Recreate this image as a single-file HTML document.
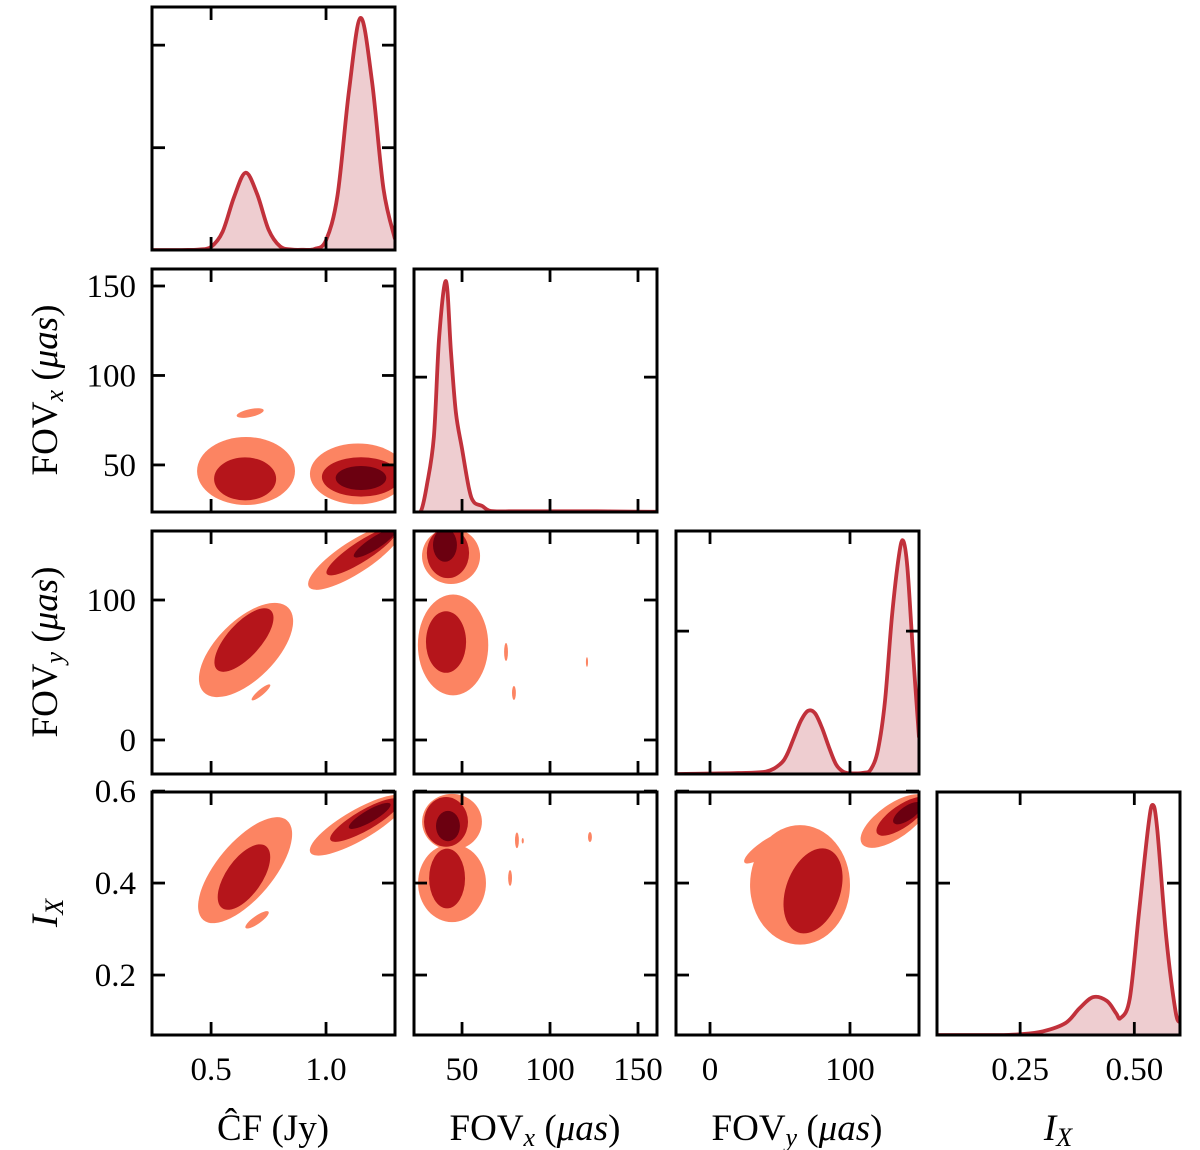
<!DOCTYPE html>
<html><head><meta charset="utf-8">
<style>
html,body{margin:0;padding:0;background:#fff;}
svg{display:block;font-family:"Liberation Serif","DejaVu Serif",serif;}
</style></head>
<body>
<svg id="chart" width="1200" height="1150" viewBox="0 0 1200 1150"></svg>
<script>
// ---- data ----
const varNames = ["CF","FOVx","FOVy","IX"];
const xDomains = [[0.243,1.30],[22.7,160.8],[-24.3,149.3],[0.068,0.600]];
const yDomains = [[0.243,1.30],[23.7,159.5],[-24.3,149.3],[0.0696,0.598]];
const xTicks = [[0.5,1.0],[50,100,150],[0,100],[0.25,0.5]];
const xTickLabels = [["0.5","1.0"],["50","100","150"],["0","100"],["0.25","0.50"]];
const yTicks = [[0.5,1.0],[50,100,150],[0,100],[0.2,0.4,0.6]];
const yTickLabels = [["0.5","1.0"],["50","100","150"],["0","100"],["0.2","0.4","0.6"]];
const diagTicks = [[0.421,0.843],[0.555],[0.588],[0.625]];
// 1D marginal densities (normalised to panel height)
const cfX = [0.243,0.30,0.35,0.40,0.45,0.50,0.55,0.60,0.65,0.70,0.75,0.80,0.85,0.90,0.95,1.00,1.05,1.10,1.15,1.20,1.25,1.30];
const cfD = [0,0,0,0.0004,0.002,0.013,0.075,0.218,0.318,0.231,0.084,0.015,0.002,0.001,0.004,0.04,0.225,0.656,0.955,0.694,0.251,0.045];
const fxX = [22.7,26.7,30,34,37,40.9,43.7,46.5,50,54,56.8,61.4,66.4,80,100,120,140,160.8];
const fxD = [0,0.005,0.11,0.31,0.72,0.95,0.66,0.41,0.26,0.095,0.04,0.025,0.004,0.003,0.003,0.003,0.002,0.001];
const fyX = [-24.3,0,20,40,50,55,60,65,70,75,80,85,90,95,100,110,115,120,125,130,135,138,141,145,149.3];
const fyD = [0,0.002,0.004,0.01,0.04,0.08,0.15,0.22,0.26,0.25,0.19,0.11,0.04,0.01,0.003,0.005,0.02,0.1,0.3,0.65,0.9,0.96,0.85,0.5,0.15];
const ixX = [0.068,0.2,0.25,0.30,0.35,0.38,0.41,0.44,0.46,0.47,0.49,0.51,0.53,0.54,0.55,0.57,0.59,0.60];
const ixD = [0,0,0.003,0.015,0.05,0.11,0.156,0.14,0.09,0.07,0.15,0.5,0.85,0.947,0.85,0.4,0.1,0.05];
const marginalX = [cfX,fxX,fyX,ixX];
const marginalD = [cfD,fxD,fyD,ixD];
// 2D contour blobs: [xCenter, yCenter, xRadius, yRadius, tiltDeg], levels 0=light,1=mid,2=dark
const blobsFxCf = [
 [[0.652,46.6,0.213,19,0],[0.67,79,0.06,2.2,-12],[1.139,45,0.209,17,0]],
 [[0.648,42.2,0.135,12,0],[1.152,43.3,0.17,11,0]],
 [[1.152,42.7,0.11,6.7,0]]];
const blobsFyCf = [
 [[0.652,64.3,0.26,21,-45],[0.717,34,0.052,2.1,-40],[1.126,130.7,0.239,11.4,-33]],
 [[0.643,71.4,0.174,12,-48],[1.157,135,0.183,7.1,-33]],
 [[1.213,140.7,0.109,4.3,-33]]];
const blobsFyFx = [
 [[43.75,131.4,16.5,20,0],[44.9,67.9,20,36,0],[75,62.9,1.1,6.4,0],[79.5,33.6,1.1,5,0],[121,55.7,0.6,3.5,0]],
 [[42,133.6,12,18,0],[40.9,70,11.4,22,0]],
 [[40.3,139.3,6.8,12,0]]];
const blobsIxCf = [
 [[0.648,0.428,0.283,0.061,-50],[0.70,0.32,0.061,0.0087,-35],[1.139,0.526,0.239,0.033,-30]],
 [[0.643,0.413,0.165,0.039,-55],[1.17,0.537,0.174,0.022,-30]],
 [[1.19,0.546,0.104,0.013,-30]]];
const blobsIxFx = [
 [[44.3,0.533,17,0.061,0],[44.3,0.40,19.3,0.085,0],[81.2,0.493,1.1,0.017,0],[77.3,0.411,1.1,0.017,0],[122.7,0.50,1.1,0.011,0],[84.5,0.492,0.6,0.006,0]],
 [[40.9,0.533,12.5,0.054,0],[41.5,0.41,10.2,0.065,0]],
 [[42,0.524,6.8,0.033,0]]];
const blobsIxFy = [
 [[64.3,0.396,35.7,0.13,0],[39.3,0.476,17.9,0.015,-35],[132,0.535,28.6,0.037,-35]],
 [[73.6,0.383,19.3,0.096,20],[137,0.545,21.4,0.024,-35]],
 [[141,0.552,12,0.015,-35]]];
const pairBlobs = {"1,0":blobsFxCf,"2,0":blobsFyCf,"2,1":blobsFyFx,"3,0":blobsIxCf,"3,1":blobsIxFx,"3,2":blobsIxFy};
const levelColors = ["#fc8462","#b5151b","#6b0010"];

// ---- layout ----
const colX = [152,414,676,937], rowY = [7,269,531,792], W = 243, H = 243;
const NS = "http://www.w3.org/2000/svg";
const svg = document.getElementById("chart");
function mk(tag, attrs, parent){ const e=document.createElementNS(NS,tag); for(const k in attrs) e.setAttribute(k,attrs[k]); (parent||svg).appendChild(e); return e; }
function sx(c,v){ const d=xDomains[c]; return colX[c]+(v-d[0])/(d[1]-d[0])*W; }
function sy(r,v){ const d=yDomains[r]; return rowY[r]+H-(v-d[0])/(d[1]-d[0])*H; }
function sd(r,v){ return rowY[r]+H-v*H; }
function smooth(pts){
  let d="M"+pts[0][0]+","+pts[0][1];
  for(let i=0;i<pts.length-1;i++){
    const p0=pts[Math.max(0,i-1)],p1=pts[i],p2=pts[i+1],p3=pts[Math.min(pts.length-1,i+2)];
    const c1=[p1[0]+(p2[0]-p0[0])/6,p1[1]+(p2[1]-p0[1])/6];
    const c2=[p2[0]-(p3[0]-p1[0])/6,p2[1]-(p3[1]-p1[1])/6];
    d+=" C"+c1[0]+","+c1[1]+" "+c2[0]+","+c2[1]+" "+p2[0]+","+p2[1];
  }
  return d;
}
const defs = mk("defs",{});
for(let r=0;r<4;r++){
  for(let c=0;c<=r;c++){
    const cp = mk("clipPath",{id:"clip"+r+c},defs);
    mk("rect",{x:colX[c],y:rowY[r],width:W,height:H},cp);
    const g = mk("g",{"clip-path":"url(#clip"+r+c+")"});
    if(r===c){
      
      
      const pts = marginalX[c].map((v,i)=>[sx(c,v),sd(r,marginalD[c][i])]);
      const line = smooth(pts);
      const fill = mk("path",{d:line+" L"+pts[pts.length-1][0]+","+(rowY[r]+H)+" L"+pts[0][0]+","+(rowY[r]+H)+" Z",fill:"#eecdd0",stroke:"none"},g);
      
      
      const ln = mk("path",{d:line,fill:"none",stroke:"#c1313b","stroke-width":3.8,"stroke-linejoin":"round"},g);
      
      
    } else {
      
      
      const levels = pairBlobs[r+","+c];
      levels.forEach((list,li)=>{
        list.forEach(b=>{
          const px=sx(c,b[0]), py=sy(r,b[1]);
          const rx=b[2]/(xDomains[c][1]-xDomains[c][0])*W;
          const ry=b[3]/(yDomains[r][1]-yDomains[r][0])*H;
          const e = mk("ellipse",{cx:0,cy:0,rx:rx,ry:ry,fill:levelColors[li],transform:"translate("+px+","+py+") rotate("+b[4]+")"},g);
          
          
        });
      });
    }
    // ticks
    const tk = mk("g",{stroke:"#000","stroke-width":2.8});
    
    
    xTicks[c].forEach(v=>{ const x=sx(c,v);
      mk("line",{x1:x,x2:x,y1:rowY[r],y2:rowY[r]+13},tk);
      mk("line",{x1:x,x2:x,y1:rowY[r]+H,y2:rowY[r]+H-13},tk); });
    const yt = r===c ? diagTicks[r].map(v=>sd(r,v)) : yTicks[r].map(v=>sy(r,v));
    yt.forEach(y=>{ if(y<rowY[r]-1||y>rowY[r]+H+1) return;
      mk("line",{x1:colX[c],x2:colX[c]+13,y1:y,y2:y},tk);
      mk("line",{x1:colX[c]+W,x2:colX[c]+W-13,y1:y,y2:y},tk); });
    const fr = mk("rect",{x:colX[c],y:rowY[r],width:W,height:H,fill:"none",stroke:"#000","stroke-width":3});
    
    
  }
}
// x tick labels
for(let c=0;c<4;c++){
  xTicks[c].forEach((v,i)=>{
    const t = mk("text",{x:sx(c,v),y:1080,"text-anchor":"middle","font-size":33,fill:"#000"});
    t.textContent = xTickLabels[c][i];
    
    
  });
}
// y tick labels (rows 1..3)
for(let r=1;r<4;r++){
  yTicks[r].forEach((v,i)=>{
    const y=sy(r,v); if(y<rowY[r]-3||y>rowY[r]+H+3) return;
    const t = mk("text",{x:136,y:y+11,"text-anchor":"end","font-size":33,fill:"#000"});
    t.textContent = yTickLabels[r][i];
    
    
  });
}
</script>
<div style="position:absolute;left:0;top:0;width:1200px;height:1150px;pointer-events:none;">
<svg width="1200" height="1150" style="position:absolute;left:0;top:0;font-family:'Liberation Serif','DejaVu Serif',serif;font-size:37px;">
 <text x="273" y="1140" text-anchor="middle">ĈF (Jy)</text>
 <text x="535" y="1140" text-anchor="middle">FOV<tspan font-style="italic" font-size="26" dy="6">x</tspan><tspan dy="-6"> (</tspan><tspan font-style="italic">μas</tspan>)</text>
 <text x="797" y="1140" text-anchor="middle">FOV<tspan font-style="italic" font-size="26" dy="6">y</tspan><tspan dy="-6"> (</tspan><tspan font-style="italic">μas</tspan>)</text>
 <text x="1058" y="1140" text-anchor="middle"><tspan font-style="italic">I</tspan><tspan font-style="italic" font-size="26" dy="6">X</tspan></text>
 <text transform="translate(57,390) rotate(-90)" text-anchor="middle">FOV<tspan font-style="italic" font-size="26" dy="6">x</tspan><tspan dy="-6"> (</tspan><tspan font-style="italic">μas</tspan>)</text>
 <text transform="translate(57,652) rotate(-90)" text-anchor="middle">FOV<tspan font-style="italic" font-size="26" dy="6">y</tspan><tspan dy="-6"> (</tspan><tspan font-style="italic">μas</tspan>)</text>
 <text transform="translate(57,913) rotate(-90)" text-anchor="middle"><tspan font-style="italic">I</tspan><tspan font-style="italic" font-size="26" dy="6">X</tspan></text>
</svg>
</div>
</body></html>
